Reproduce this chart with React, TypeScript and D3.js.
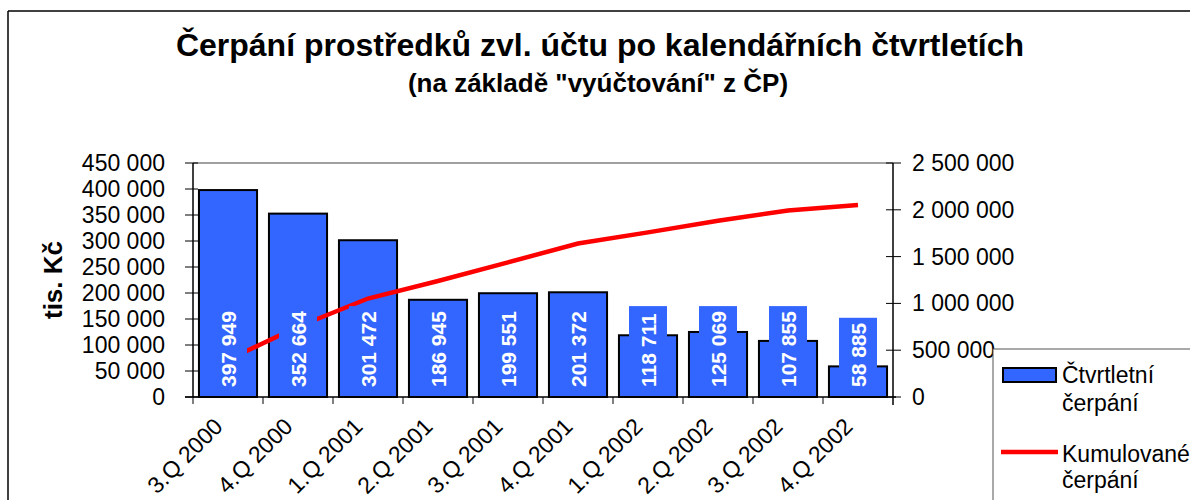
import React from 'react';
import * as d3 from 'd3';

// čtvrtletí a hodnoty (tis. Kč)
const quarters = ['3.Q 2000', '4.Q 2000', '1.Q 2001', '2.Q 2001', '3.Q 2001', '4.Q 2001', '1.Q 2002', '2.Q 2002', '3.Q 2002', '4.Q 2002'];
const quarterly = [397949, 352664, 301472, 186945, 199551, 201372, 118711, 125069, 107855, 58885];
const cumulative = [397949, 750613, 1052085, 1239030, 1438581, 1639953, 1758664, 1883733, 1991588, 2050473];
const leftTicks = [0, 50000, 100000, 150000, 200000, 250000, 300000, 350000, 400000, 450000];
const rightTicks = [0, 500000, 1000000, 1500000, 2000000, 2500000];

const title = 'Čerpání prostředků zvl. účtu po kalendářních čtvrtletích';
const subtitle = '(na základě "vyúčtování" z ČP)';
const legendBars = ['Čtvrtletní', 'čerpání'];
const legendLine = ['Kumulované', 'čerpání'];

const FONT = '"Liberation Sans", Arial, sans-serif';
const BLUE = '#3366FF';

// mezery mezi tisíci
const fmt = (v: number) => d3.format(',')(v).replace(/,/g, ' ');

export default function App() {
  const W = 1190;
  const H = 500;
  const left = 193, right = 893, top = 163, bottom = 397;

  const x = d3.scaleBand<string>().domain(quarters).range([left, right]).paddingInner(0.17).paddingOuter(0.085);
  const xb = d3.scaleBand<string>().domain(quarters).range([left, right]);
  const y = d3.scaleLinear().domain([0, 450000]).range([bottom, top]);
  const y2 = d3.scaleLinear().domain([0, 2500000]).range([bottom, top]);

  const cx = (q: string) => (xb(q) as number) + xb.bandwidth() / 2;
  const line = d3.line<number>().x((_, i) => cx(quarters[i])).y(d => y2(d));

  const lblSize = 21;
  const capH = lblSize * 0.716;
  const lblBase = 387;
  const textLen = (s: string) => Array.from(s).reduce((a, c) => a + (c === ' ' ? 0.278 : 0.556), 0) * lblSize;

  return (
    <svg width={W} height={H} style={{ position: 'absolute', left: 0, top: 0, background: '#fff' }} fontFamily={FONT}>
      <rect x={0} y={0} width={W} height={H} fill="#fff" />
      {/* rámeček grafu */}
      <line x1={8} x2={W} y1={11} y2={11} stroke="#000" strokeWidth={1.5} />
      <line x1={8} x2={8} y1={11} y2={H} stroke="#000" strokeWidth={1.5} />

      <text x={600} y={56} textAnchor="middle" fontSize={32} fontWeight="bold">{title}</text>
      <text x={598} y={92} textAnchor="middle" fontSize={26} fontWeight="bold">{subtitle}</text>

      {/* plocha grafu */}
      <line x1={left} x2={right} y1={top} y2={top} stroke="#808080" strokeWidth={1.5} />
      <line x1={left} x2={left} y1={top} y2={bottom} stroke="#000" strokeWidth={1.5} />
      <line x1={right} x2={right} y1={top} y2={bottom + 8} stroke="#000" strokeWidth={1.5} />

      {/* levá osa */}
      {leftTicks.map(t => (
        <g key={'l' + t}>
          <line x1={left - 8} x2={left + 5} y1={y(t)} y2={y(t)} stroke="#000" strokeWidth={1} />
          <text x={165} y={y(t)} dy="0.35em" textAnchor="end" fontSize={23}>{fmt(t)}</text>
        </g>
      ))}
      {/* pravá osa */}
      {rightTicks.map(t => (
        <g key={'r' + t}>
          <line x1={right - 7} x2={right + 8} y1={y2(t)} y2={y2(t)} stroke="#000" strokeWidth={1} />
          <text x={912} y={y2(t)} dy="0.35em" textAnchor="start" fontSize={23}>{fmt(t)}</text>
        </g>
      ))}
      <text transform={`translate(62,280) rotate(-90)`} textAnchor="middle" fontSize={26} fontWeight="bold">tis. Kč</text>

      {/* sloupce */}
      {quarters.map((q, i) => (
        <rect key={q} x={x(q)} y={y(quarterly[i])} width={x.bandwidth()} height={bottom - y(quarterly[i])}
          fill={BLUE} stroke="#000" strokeWidth={2} />
      ))}

      {/* osa x */}
      <line x1={left - 8} x2={right + 3} y1={bottom} y2={bottom} stroke="#000" strokeWidth={1.5} />
      {quarters.map(q => (
        <line key={'t' + q} x1={xb(q)} x2={xb(q)} y1={bottom} y2={bottom + 7} stroke="#000" strokeWidth={1} />
      ))}
      {quarters.map(q => (
        <text key={'x' + q} transform={`translate(${cx(q) - 4},428) rotate(-45)`} textAnchor="end" fontSize={23}>{q}</text>
      ))}

      {/* kumulativní čára */}
      <path d={line(cumulative) as string} fill="none" stroke="#FF0000" strokeWidth={4.5} />

      {/* popisky hodnot */}
      {quarters.map((q, i) => {
        const s = fmt(quarterly[i]);
        const len = textLen(s);
        const c = cx(q);
        return (
          <g key={'v' + q}>
            <rect x={c - 19} y={lblBase - len - 5} width={38} height={len + 10} fill={BLUE} />
            <text transform={`translate(${c + capH / 2},${lblBase}) rotate(-90)`} fontSize={lblSize} fontWeight="bold" fill="#fff">{s}</text>
          </g>
        );
      })}

      {/* legenda */}
      <rect x={993} y={349} width={W} height={H} fill="#fff" stroke="#555" strokeWidth={1} />
      <rect x={1003} y={368} width={53} height={14} fill={BLUE} stroke="#000" strokeWidth={2} />
      <text fontSize={23}>
        <tspan x={1062} y={383}>{legendBars[0]}</tspan>
        <tspan x={1062} y={411}>{legendBars[1]}</tspan>
      </text>
      <line x1={1001} x2={1058} y1={452} y2={452} stroke="#FF0000" strokeWidth={4.5} />
      <text fontSize={23}>
        <tspan x={1062} y={462}>{legendLine[0]}</tspan>
        <tspan x={1062} y={488}>{legendLine[1]}</tspan>
      </text>
    </svg>
  );
}
